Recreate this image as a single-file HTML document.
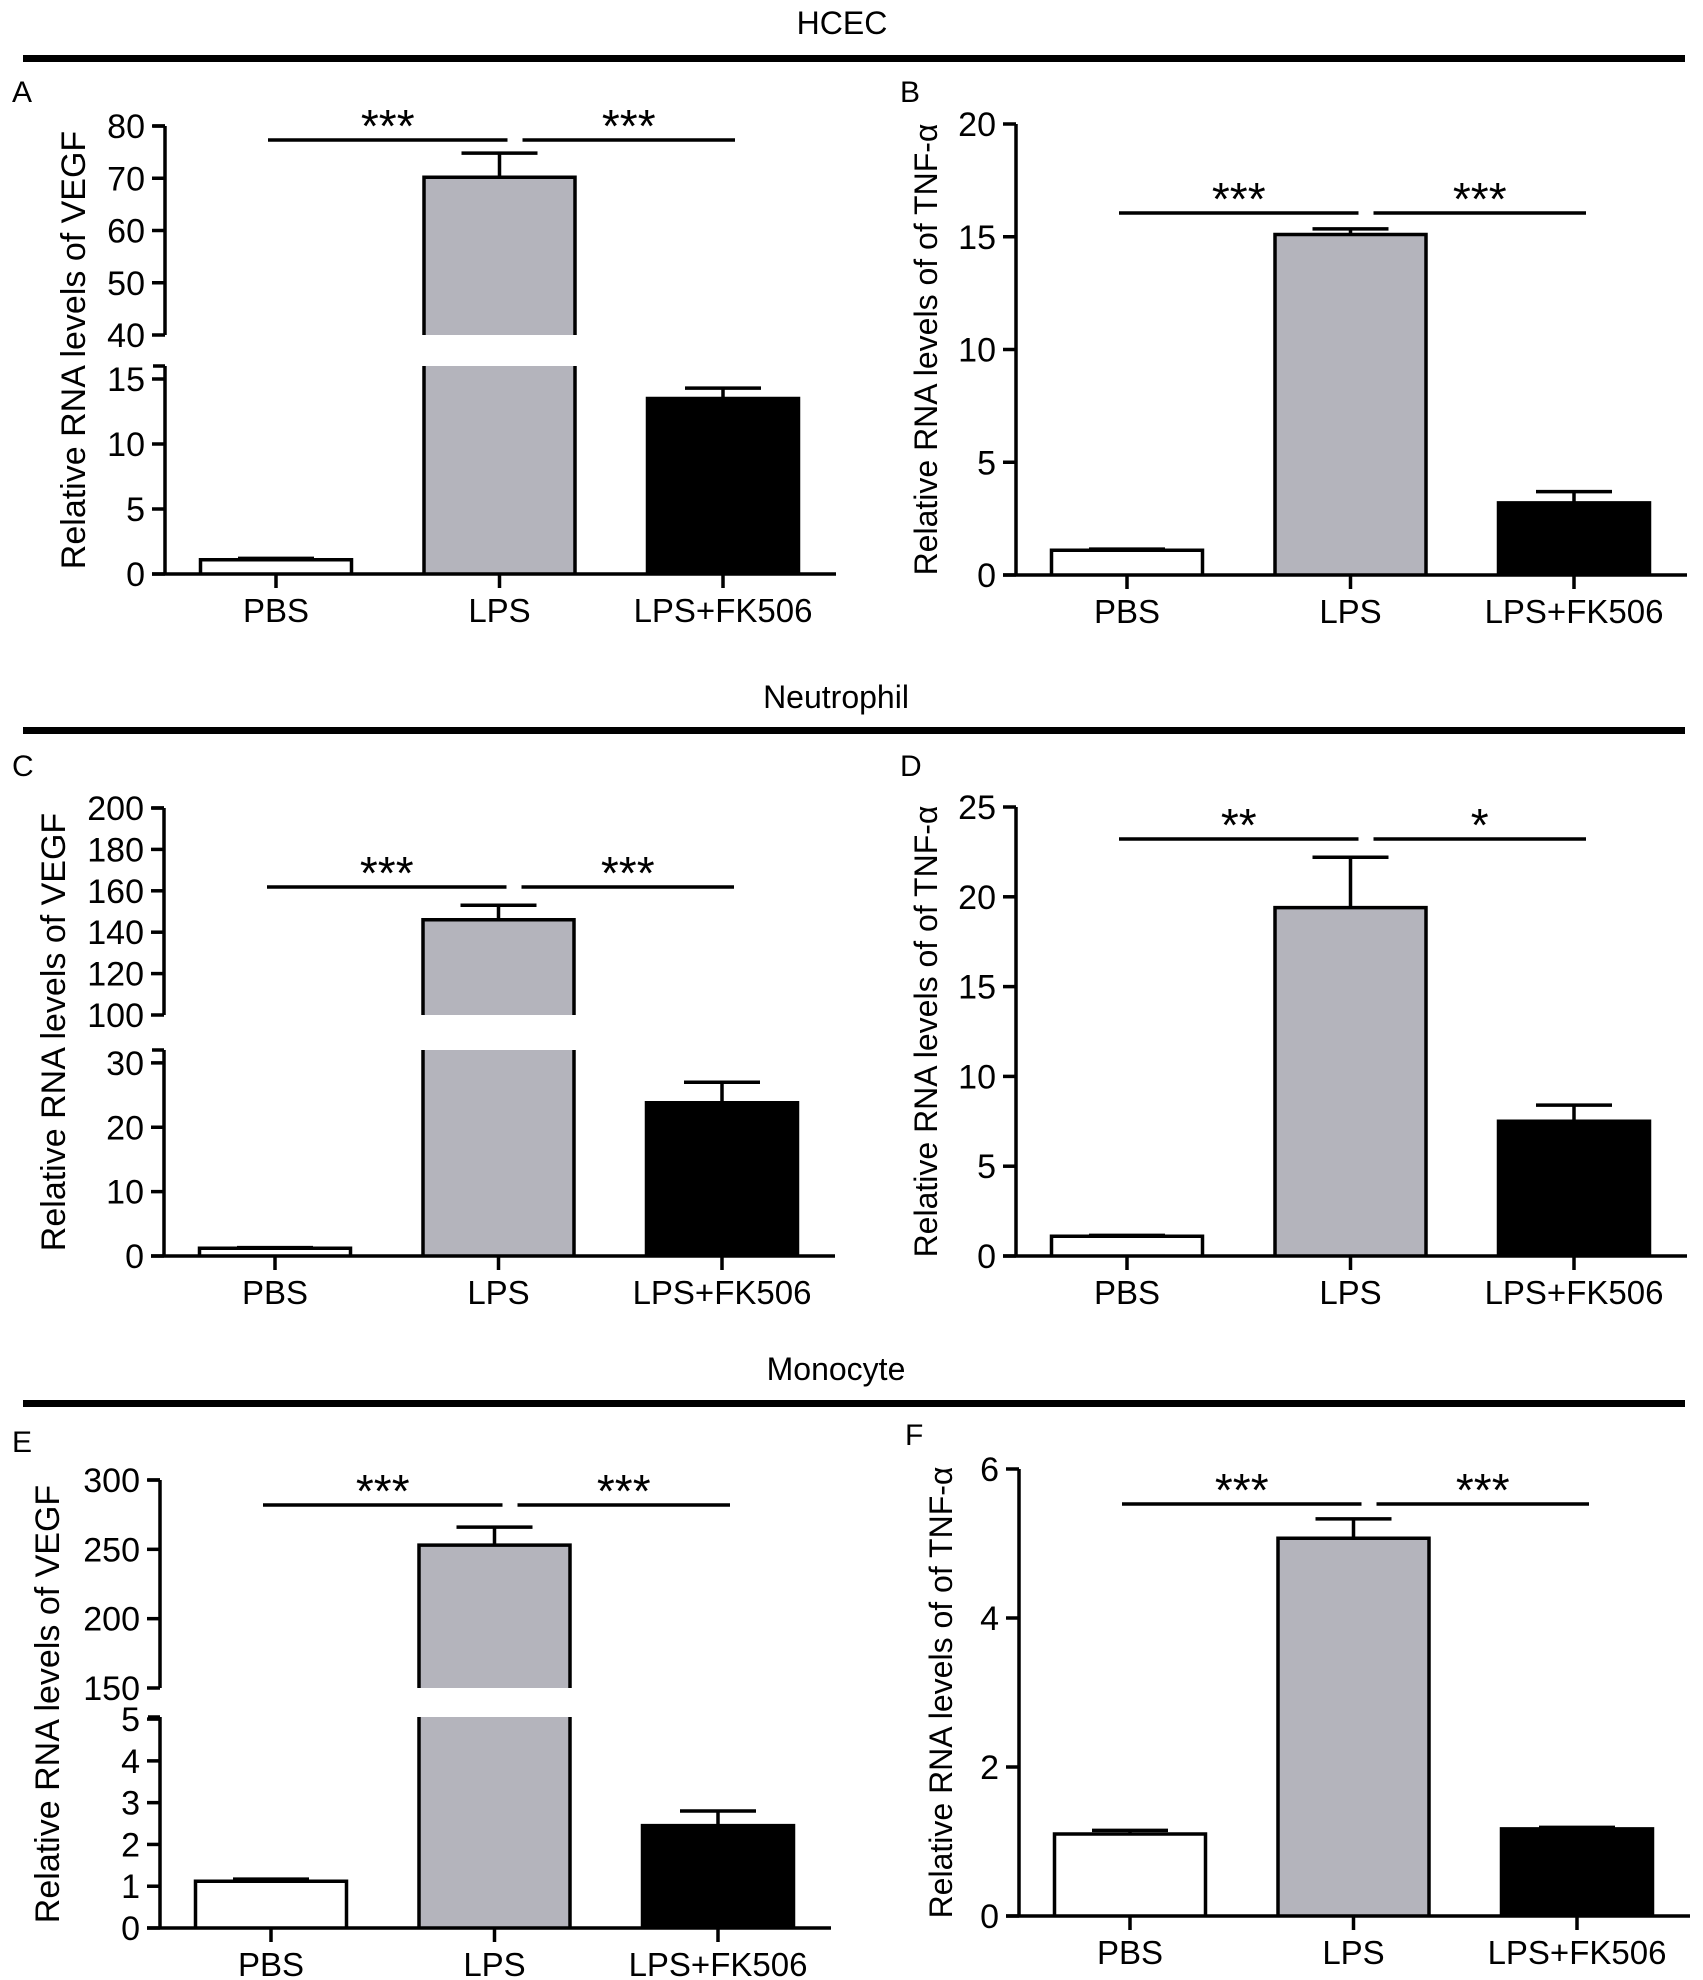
<!DOCTYPE html>
<html><head><meta charset="utf-8">
<style>
html,body{margin:0;padding:0;background:#fff;}
svg{display:block;font-family:"Liberation Sans",Arial,sans-serif;}
</style></head>
<body>
<svg id="fig" width="1703" height="1980" viewBox="0 0 1703 1980" xmlns="http://www.w3.org/2000/svg">
  <text x="842" y="34" font-size="32" text-anchor="middle">HCEC</text>
  <rect x="23" y="55" width="1662" height="7" fill="#000"/>
  <text x="836" y="708" font-size="32" text-anchor="middle">Neutrophil</text>
  <rect x="23" y="727" width="1662" height="7" fill="#000"/>
  <text x="836" y="1380" font-size="32" text-anchor="middle">Monocyte</text>
  <rect x="23" y="1400" width="1662" height="7" fill="#000"/>
</svg>
<script>
const categories = ["PBS", "LPS", "LPS+FK506"];
const meansA = [1.1, 70.2, 13.5];
const errA = [0.1, 4.6, 0.8];
const meansB = [1.1, 15.1, 3.2];
const errB = [0.05, 0.25, 0.5];
const meansC = [1.2, 146, 23.8];
const errC = [0.1, 7, 3.2];
const meansD = [1.1, 19.4, 7.5];
const errD = [0.05, 2.8, 0.9];
const meansE = [1.12, 253, 2.45];
const errE = [0.05, 13, 0.35];
const meansF = [1.1, 5.07, 1.17];
const errF = [0.05, 0.26, 0.02];
const ticksA = [[0,5,10,15],[40,50,60,70,80]];
const ticksB = [[0,5,10,15,20]];
const ticksC = [[0,10,20,30],[100,120,140,160,180,200]];
const ticksD = [[0,5,10,15,20,25]];
const ticksE = [[0,1,2,3,4,5],[150,200,250,300]];
const ticksF = [[0,2,4,6]];
const sigA = ["***","***"], sigB = ["***","***"], sigC = ["***","***"];
const sigD = ["**","*"], sigE = ["***","***"], sigF = ["***","***"];

const NS = "http://www.w3.org/2000/svg";
const svg = document.getElementById("fig");
const fills = ["#ffffff", "#b4b4bc", "#000000"];
function mk(tag, attrs, parent){
  const e = document.createElementNS(NS, tag);
  for (const k in attrs) e.setAttribute(k, attrs[k]);
  (parent||svg).appendChild(e);
  return e;
}

const panels = [
  {id:"a", letter:"A", lx:12, ly:102, ax:165, segs:[{lo:0,hi:16,y0:574,top:366},{lo:40,hi:80,y0:335,top:126}], ticks:ticksA, means:meansA, errs:errA, sig:sigA, sigY:140, title:"Relative RNA levels of VEGF", tx:-92, tf:34},
  {id:"b", letter:"B", lx:900, ly:102, ax:1016, segs:[{lo:0,hi:20,y0:575,top:124}], ticks:ticksB, means:meansB, errs:errB, sig:sigB, sigY:213, title:"Relative RNA levels of of TNF-α", tx:-91, tf:32},
  {id:"c", letter:"C", lx:12, ly:776, ax:164, segs:[{lo:0,hi:32,y0:1256,top:1050},{lo:100,hi:200,y0:1015,top:808}], ticks:ticksC, means:meansC, errs:errC, sig:sigC, sigY:887, title:"Relative RNA levels of VEGF", tx:-111, tf:34},
  {id:"d", letter:"D", lx:900, ly:776, ax:1016, segs:[{lo:0,hi:25,y0:1256,top:807}], ticks:ticksD, means:meansD, errs:errD, sig:sigD, sigY:839, title:"Relative RNA levels of of TNF-α", tx:-91, tf:32},
  {id:"e", letter:"E", lx:12, ly:1452, ax:160, segs:[{lo:0,hi:5.05,y0:1928,top:1717},{lo:150,hi:300,y0:1688,top:1480}], ticks:ticksE, means:meansE, errs:errE, sig:sigE, sigY:1505, title:"Relative RNA levels of VEGF", tx:-113, tf:34},
  {id:"f", letter:"F", lx:905, ly:1445, ax:1019, segs:[{lo:0,hi:6,y0:1916,top:1469}], ticks:ticksF, means:meansF, errs:errF, sig:sigF, sigY:1504, title:"Relative RNA levels of of TNF-α", tx:-79, tf:32}
];

function segOf(p, v){
  for (const s of p.segs) if (v >= s.lo - 1e-9 && v <= s.hi + 1e-9) return s;
  return null;
}
function yScale(s, v){ return s.y0 - (v - s.lo) * (s.y0 - s.top) / (s.hi - s.lo); }
function yOf(p, v){ const s = segOf(p, v) || p.segs[p.segs.length-1]; return yScale(s, v); }
function xCenter(p, i){ return p.ax + 111 + i * 223.5; }

panels.forEach(p => {
  const g = mk("g", {});
  
  
  const lt = mk("text", {x:p.lx, y:p.ly, "font-size":30}, g);
  lt.textContent = p.letter;
  
  

  const base = p.segs[0].y0;
  const top = p.segs[p.segs.length-1].top;
  const cy = (base + top) / 2;
  const tt = mk("text", {x:p.ax + p.tx, y:cy, "font-size":p.tf, "text-anchor":"middle", transform:`rotate(-90 ${p.ax+p.tx} ${cy})`, dy:"12"}, g);
  tt.textContent = p.title;
  
  

  p.means.forEach((m, i) => {
    const cx = xCenter(p, i), x1 = cx - 75.5, x2 = cx + 75.5;
    p.segs.forEach((s, si) => {
      if (m <= s.lo) return;
      const vTop = Math.min(m, s.hi);
      const yb = s.y0, yt = yScale(s, vTop);
      const r = mk("rect", {x:x1, y:yt, width:x2-x1, height:yb-yt, fill:fills[i]}, g);
      
      
      let d = `M${x1},${yb} L${x1},${yt} `;
      if (m <= s.hi) d += `L${x2},${yt} `; else d += `M${x2},${yt} `;
      d += `L${x2},${yb}`;
      mk("path", {d:d, fill:"none", stroke:"#000", "stroke-width":3.5}, g);
    });
    const ym = yOf(p, m), ye = yOf(p, m + p.errs[i]);
    const eb = mk("path", {d:`M${cx},${ym} L${cx},${ye} M${cx-38},${ye} L${cx+38},${ye}`, stroke:"#000", "stroke-width":3.5, fill:"none"}, g);
    
    
  });

  p.segs.forEach((s, si) => {
    const ax = mk("line", {x1:p.ax, x2:p.ax, y1:s.y0 + (si===0?1.5:0), y2:s.top, stroke:"#000", "stroke-width":3.5}, g);
    
    
    if (p.segs.length > 1) {
      mk("line", {x1:p.ax-12, x2:p.ax, y1:s.top, y2:s.top, stroke:"#000", "stroke-width":3.5}, g);
    }
    p.ticks[si].forEach(t => {
      const y = yScale(s, t);
      mk("line", {x1:p.ax-13, x2:p.ax, y1:y, y2:y, stroke:"#000", "stroke-width":3.5}, g);
      const tl = mk("text", {x:p.ax-20, y:y+12, "font-size":34, "text-anchor":"end"}, g);
      tl.textContent = t;
      
      
    });
  });

  const xa = mk("line", {x1:p.ax-13, x2:p.ax+671, y1:base, y2:base, stroke:"#000", "stroke-width":3.5}, g);
  
  
  categories.forEach((c, i) => {
    const cx = xCenter(p, i);
    mk("line", {x1:cx, x2:cx, y1:base, y2:base+14, stroke:"#000", "stroke-width":3.5}, g);
    const xl = mk("text", {x:cx, y:base+48, "font-size":33, "text-anchor":"middle"}, g);
    xl.textContent = c;
    
    
  });

  const c0 = xCenter(p,0), c1 = xCenter(p,1), c2 = xCenter(p,2);
  [[c0-8, c1+8], [c1+23, c2+12]].forEach((pr, k) => {
    const sl = mk("line", {x1:pr[0], x2:pr[1], y1:p.sigY, y2:p.sigY, stroke:"#000", "stroke-width":3.5}, g);
    
    
    const st = mk("text", {x:(pr[0]+pr[1])/2, y:p.sigY+2, "font-size":46, "text-anchor":"middle"}, g);
    st.textContent = p.sig[k];
    
    
  });
});
</script>
</body></html>
